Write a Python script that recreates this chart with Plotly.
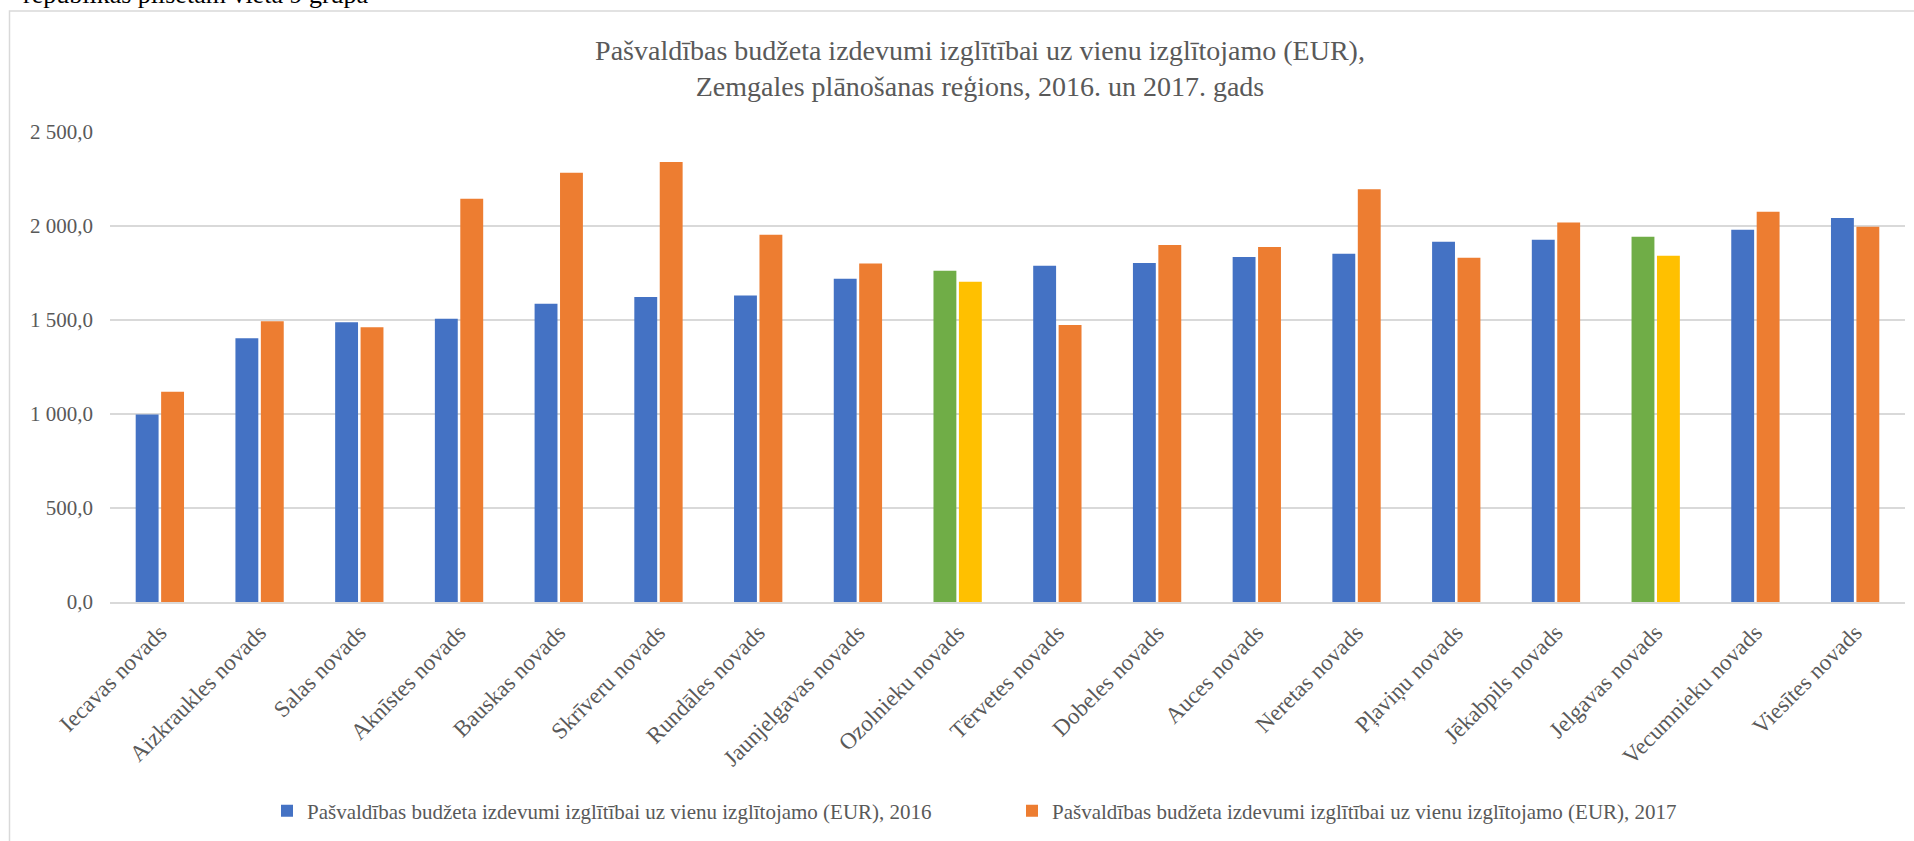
import plotly.graph_objects as go

# Data
NOVADI = [
    'Iecavas novads', 'Aizkraukles novads', 'Salas novads', 'Aknīstes novads',
    'Bauskas novads', 'Skrīveru novads', 'Rundāles novads', 'Jaunjelgavas novads',
    'Ozolnieku novads', 'Tērvetes novads', 'Dobeles novads', 'Auces novads',
    'Neretas novads', 'Pļaviņu novads', 'Jēkabpils novads', 'Jelgavas novads',
    'Vecumnieku novads', 'Viesītes novads',
]
IZDEVUMI_2016 = [997, 1403, 1488, 1507, 1587, 1623, 1630, 1720, 1762,
                 1789, 1803, 1835, 1853, 1916, 1927, 1943, 1980, 2042]
IZDEVUMI_2017 = [1118, 1493, 1461, 2145, 2283, 2340, 1954, 1800, 1704,
                 1474, 1899, 1888, 2195, 1831, 2019, 1842, 2076, 1996]
IZCELTIE = ['Ozolnieku novads', 'Jelgavas novads']  # highlighted municipalities

SERIES_NAMES = [
    'Pašvaldības budžeta izdevumi izglītībai uz vienu izglītojamo (EUR), 2016',
    'Pašvaldības budžeta izdevumi izglītībai uz vienu izglītojamo (EUR), 2017',
]
TITLE = ('Pašvaldības budžeta izdevumi izglītībai uz vienu izglītojamo (EUR),<br>'
         'Zemgales plānošanas reģions, 2016. un 2017. gads')
TOP_TEXT = 'republikas pilsētām vieta 9 grupa'

COLORS = {'blue': '#4472C4', 'orange': '#ED7D31', 'green': '#70AD47',
          'yellow': '#FFC000', 'text': '#595959', 'grid': '#D9D9D9'}
FONT = 'Liberation Serif, Times New Roman, serif'

W, H = 1914, 841
L, R, T, B = 110, 9, 132, 239
plot_w, plot_h = W - L - R, H - T - B


def px_x(x):
    return (x - L) / plot_w


def px_y(y):
    return (H - B - y) / plot_h


colors_2016 = [COLORS['green'] if n in IZCELTIE else COLORS['blue'] for n in NOVADI]
colors_2017 = [COLORS['yellow'] if n in IZCELTIE else COLORS['orange'] for n in NOVADI]

fig = go.Figure()
fig.add_trace(go.Bar(x=NOVADI, y=IZDEVUMI_2016, name=SERIES_NAMES[0],
                     marker=dict(color=colors_2016, line_width=0)))
fig.add_trace(go.Bar(x=NOVADI, y=IZDEVUMI_2017, name=SERIES_NAMES[1],
                     marker=dict(color=colors_2017, line_width=0)))

# chart frame (runs past the right/bottom edge, as in the screenshot)
fig.add_shape(type='rect', xref='paper', yref='paper',
              x0=px_x(9.5), x1=px_x(1940), y0=px_y(880), y1=px_y(11),
              line=dict(color=COLORS['grid'], width=1.5), fillcolor='rgba(0,0,0,0)',
              layer='below')

# document text above the chart, cut off by the screenshot
fig.add_annotation(text=TOP_TEXT, xref='paper', yref='paper',
                   x=px_x(21), y=px_y(11), xanchor='left', yanchor='bottom',
                   showarrow=False, font=dict(family=FONT, size=26, color='black'))

fig.update_layout(
    width=W, height=H,
    margin=dict(l=L, r=R, t=T, b=B),
    paper_bgcolor='white',
    plot_bgcolor='white',
    font=dict(family=FONT, color=COLORS['text'], size=20),
    title=dict(text=TITLE, x=980 / W, xanchor='center', y=1 - 60 / H, yanchor='middle',
               font=dict(family=FONT, size=28, color=COLORS['text'])),
    separators=', ',
    barmode='group',
    bargap=0.49,
    bargroupgap=0.1,
    showlegend=True,
    legend=dict(orientation='h', x=px_x(267), xanchor='left', y=px_y(811), yanchor='middle',
                font=dict(family=FONT, size=21, color=COLORS['text']),
                entrywidth=700, itemwidth=30, tracegroupgap=0),
    xaxis=dict(tickangle=-45, showgrid=False, showline=True, linecolor=COLORS['grid'],
               linewidth=2, ticks='', tickfont=dict(size=23), automargin=False,
               ticklabelstandoff=6),
    yaxis=dict(range=[0, 2500], dtick=500, tickformat=',.1f', gridcolor=COLORS['grid'],
               gridwidth=1.5, zeroline=False, ticks='', tickfont=dict(size=21),
               ticklabelstandoff=16, automargin=False),
)

fig.write_html('out.html', config={'displayModeBar': False},
               post_script="document.body.style.margin='0';")
